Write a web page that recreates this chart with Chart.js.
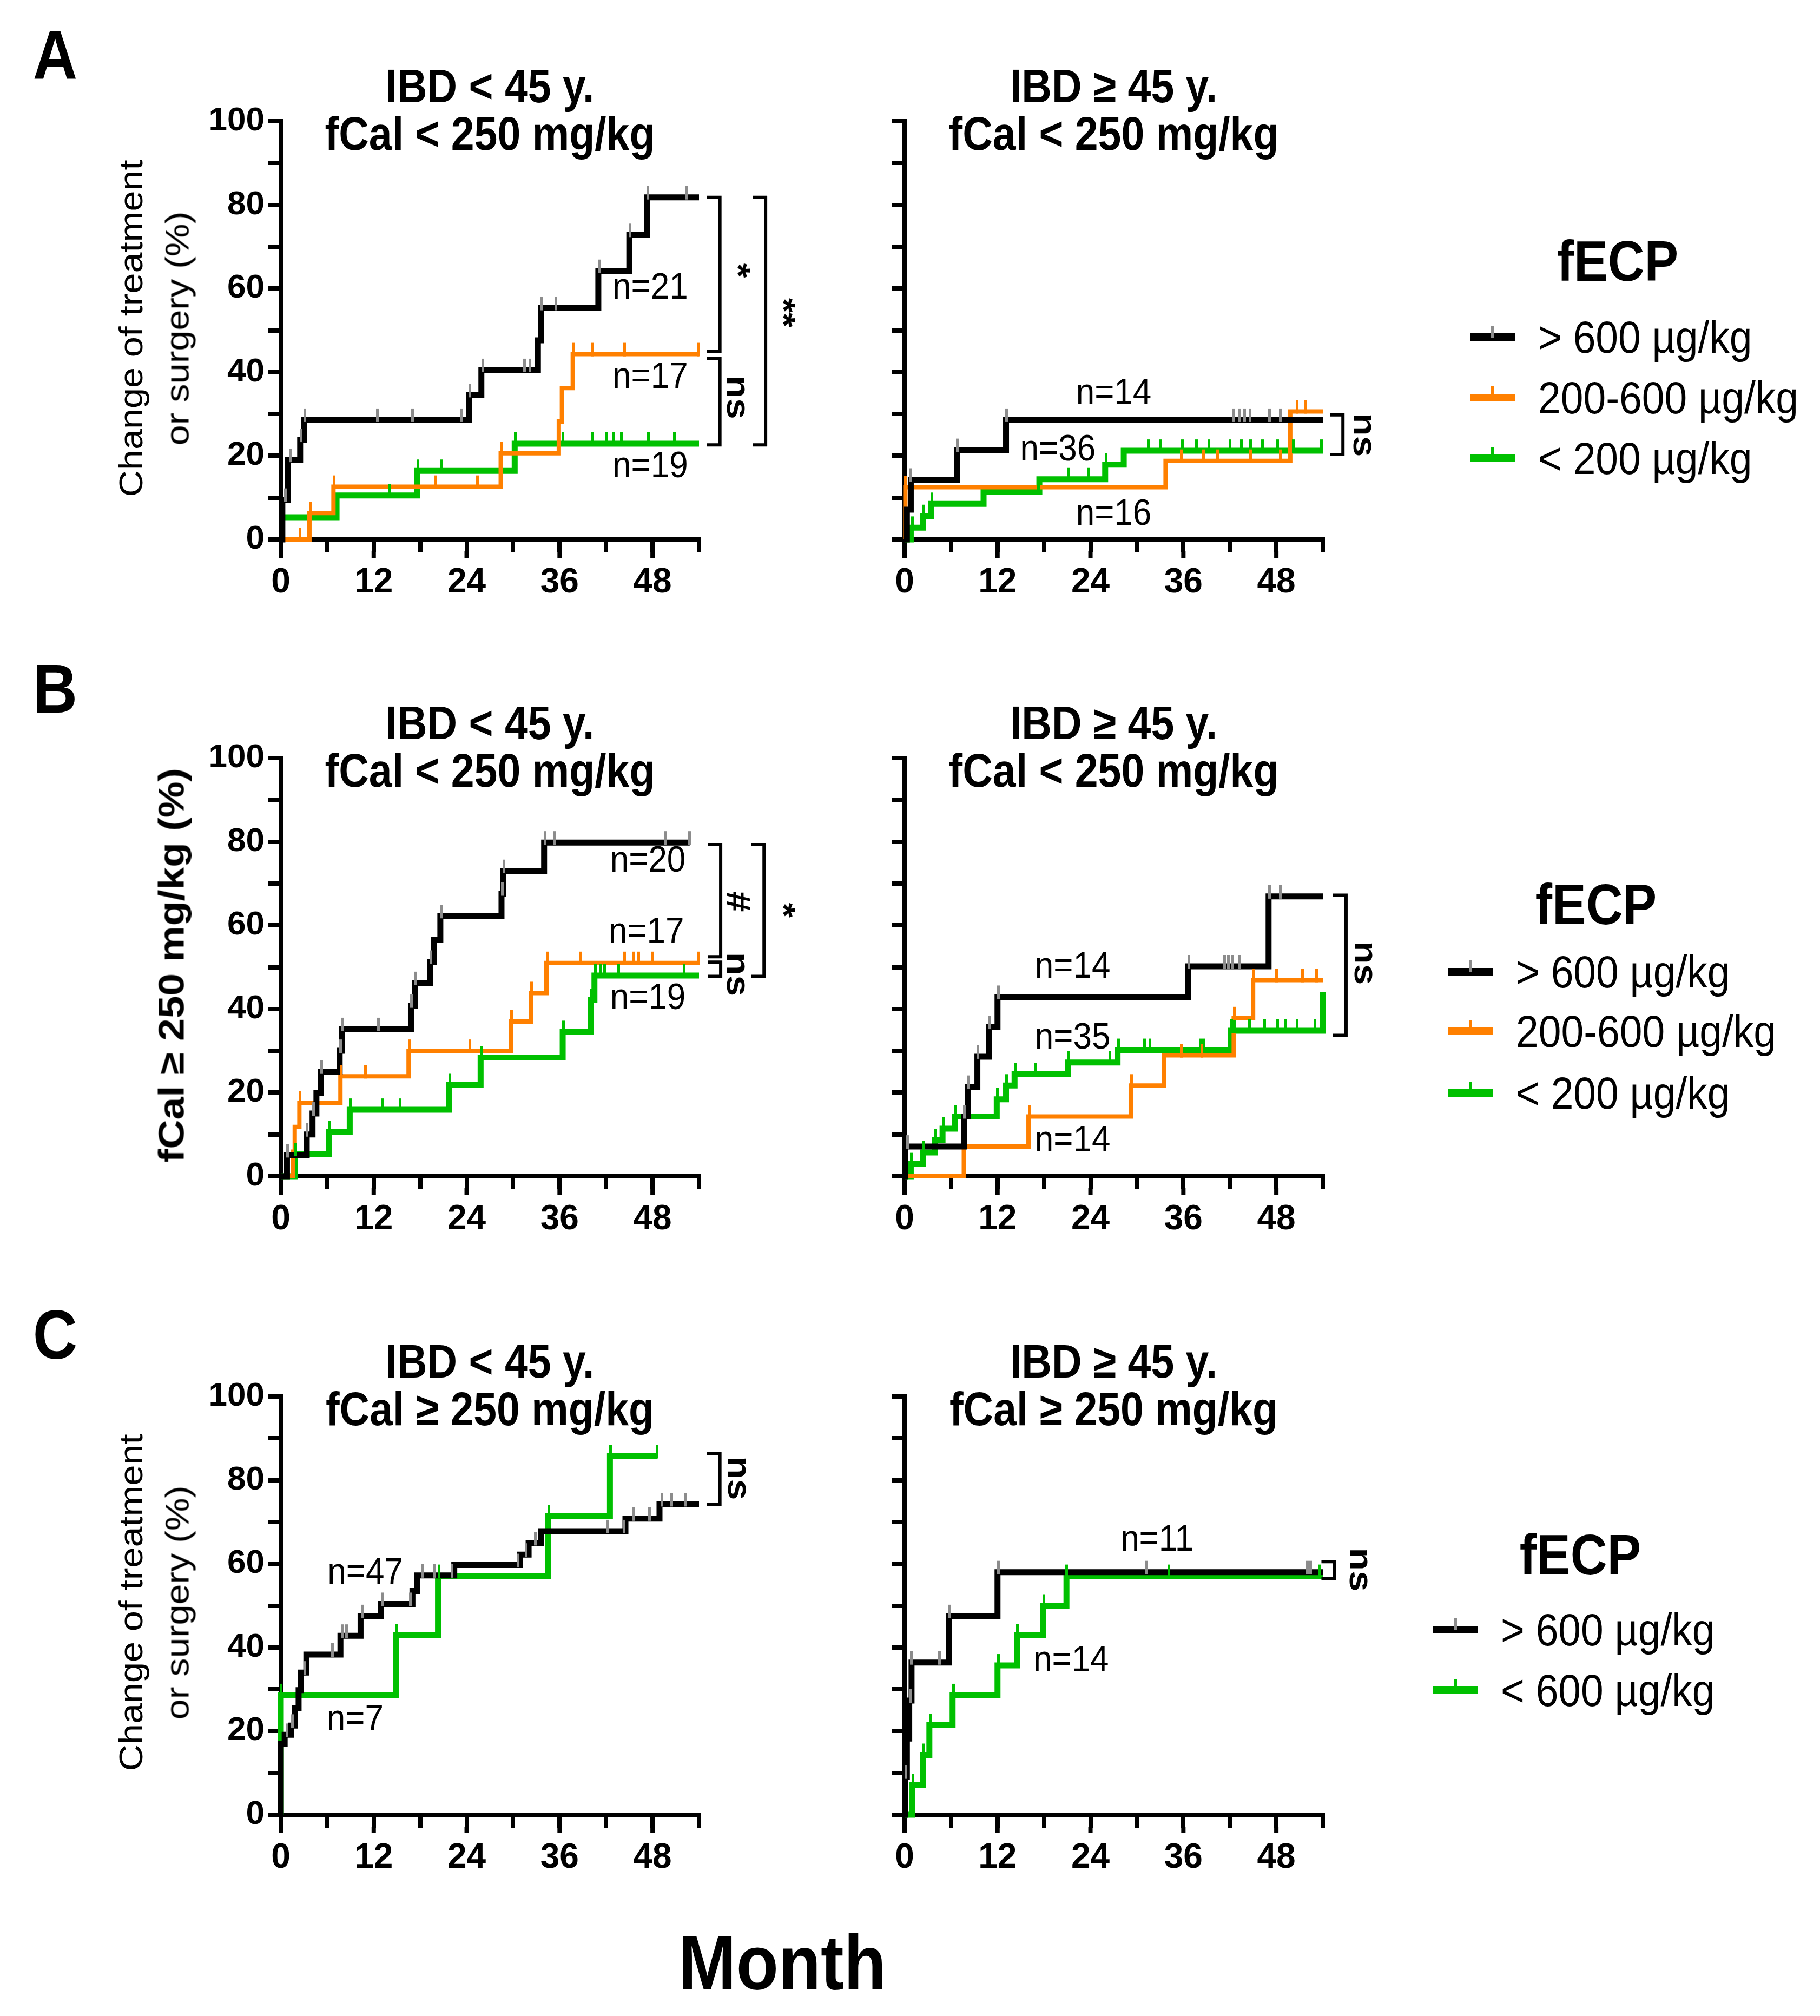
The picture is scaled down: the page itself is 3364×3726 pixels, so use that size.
<!DOCTYPE html>
<html>
<head>
<meta charset="utf-8">
<title>fECP cumulative incidence</title>
<script src="https://cdn.jsdelivr.net/npm/chart.js@4.4.1/dist/chart.umd.min.js"></script>
<style>
  html, body { margin: 0; padding: 0; background: #fff; }
  body { width: 3364px; height: 3726px; position: relative; overflow: hidden;
         font-family: "Liberation Sans", Arial, sans-serif; color: #000; }
  .txt { position: absolute; white-space: nowrap; line-height: 1; }
  canvas { position: absolute; }
</style>
</head>
<body>
<script>
// ---------- data (months, cumulative %, censoring months) ----------

// A  IBD < 45 y., fCal < 250
const aLeftHighT = [0, 0.2, 0.9, 2.5, 3.0, 24.3, 25.9, 33.2, 33.6, 41.0, 45.0, 47.3, 54];
const aLeftHighY = [0, 9.5, 19.0, 23.8, 28.6, 34.5, 40.5, 47.6, 55.3, 64.2, 72.8, 81.8, 81.8];
const aLeftHighCens = [0.6, 1.2, 2.6, 3.1, 12.5, 17.0, 23.3, 24.4, 26.1, 31.5, 32.2, 33.7, 35.5, 41.1, 45.1, 47.4, 52.4];
const aLeftMidT = [0, 3.7, 6.8, 28.4, 35.9, 36.3, 37.7, 54];
const aLeftMidY = [0, 6.3, 12.6, 20.6, 28.2, 36.2, 44.3, 44.3];
const aLeftMidCens = [2.5, 3.8, 6.9, 20.0, 25.4, 28.5, 37.8, 40.2, 44.4, 53.9];
const aLeftLowT = [0, 7.2, 17.6, 30.2, 54];
const aLeftLowY = [5.3, 10.5, 16.4, 22.9, 22.9];
const aLeftLowCens = [14.1, 17.7, 20.8, 30.3, 36.4, 40.3, 42.0, 43.0, 44.0, 47.5, 50.8];

// A  IBD >= 45 y., fCal < 250
const aRightHighT = [0, 0.3, 0.8, 6.75, 13.1, 54];
const aRightHighY = [0, 7.1, 14.3, 21.4, 28.6, 28.6];
const aRightHighCens = [0.8, 6.8, 13.2, 42.5, 43.2, 43.9, 44.6, 47.1, 48.5];
const aRightMidT = [0, 0.1, 33.7, 49.8, 54];
const aRightMidY = [0, 12.5, 18.8, 30.6, 30.6];
const aRightMidCens = [0.1, 35.7, 38.6, 40.4, 44.7, 48.5, 50.7, 51.8];
const aRightLowT = [0, 0.8, 2.4, 3.4, 10.2, 17.4, 25.9, 28.3, 54];
const aRightLowY = [0, 2.8, 5.6, 8.5, 11.4, 14.4, 17.9, 21.2, 21.2];
const aRightLowCens = [1.0, 2.5, 3.5, 17.3, 21.2, 23.8, 26.0, 31.5, 33.0, 35.9, 37.7, 39.3, 42.0, 43.5, 44.7, 46.2, 48.2, 50.2, 53.8];

// B  IBD < 45 y., fCal < 250
const bLeftHighT = [0, 0.8, 3.35, 4.1, 4.6, 5.2, 7.6, 7.9, 16.8, 17.3, 19.3, 19.8, 20.6, 28.5, 28.7, 34.0, 52.8];
const bLeftHighY = [0, 5.0, 10.0, 15.0, 20.0, 25.0, 30.0, 35.2, 40.8, 46.2, 51.3, 56.6, 62.2, 67.6, 73.0, 79.8, 79.8];
const bLeftHighCens = [0.9, 3.4, 4.2, 5.3, 7.7, 8.0, 12.6, 16.9, 17.4, 19.4, 20.7, 28.6, 28.8, 34.1, 35.4, 49.6, 52.8];
const bLeftMidT = [0, 1.6, 1.8, 2.4, 7.7, 16.5, 29.7, 32.3, 34.3, 54];
const bLeftMidY = [0, 5.9, 11.8, 17.6, 23.9, 30.0, 37.0, 43.8, 51.0, 51.0];
const bLeftMidCens = [2.5, 7.8, 10.9, 16.6, 24.4, 29.8, 32.4, 34.4, 38.7, 44.4, 45.5, 46.2, 48.0, 53.9];
const bLeftLowT = [0, 1.8, 6.2, 8.9, 21.7, 25.8, 36.4, 40.0, 40.5, 54];
const bLeftLowY = [0, 5.3, 10.6, 15.9, 21.8, 28.4, 34.5, 42.1, 48.0, 48.0];
const bLeftLowCens = [1.9, 6.3, 9.0, 13.2, 15.4, 21.8, 25.9, 36.5, 40.1, 40.6, 41.3, 41.8, 43.6, 52.1];

// B  IBD >= 45 y., fCal < 250
const bRightHighT = [0, 0.1, 7.65, 8.2, 9.4, 10.9, 12.0, 36.6, 47.0, 54];
const bRightHighY = [0, 7.1, 14.3, 21.4, 28.6, 35.7, 42.9, 50.2, 66.9, 66.9];
const bRightHighCens = [0.4, 7.7, 8.3, 9.5, 11.0, 12.1, 36.7, 41.3, 41.8, 42.3, 43.2, 47.1, 48.5];
const bRightMidT = [0, 7.65, 16.0, 29.2, 33.5, 42.5, 45.0, 54];
const bRightMidY = [0, 7.1, 14.3, 21.7, 28.9, 37.8, 46.9, 46.9];
const bRightMidCens = [16.1, 29.3, 35.7, 38.4, 42.6, 45.1, 48.0, 51.4, 53.2];
const bRightLowT = [0, 0.8, 2.4, 3.9, 4.9, 6.5, 11.9, 13.1, 14.2, 21.1, 27.5, 42.1, 54];
const bRightLowY = [0, 2.9, 5.7, 8.6, 11.4, 14.3, 18.4, 21.7, 24.4, 27.2, 30.2, 34.8, 44.0];
const bRightLowCens = [0.9, 2.5, 4.0, 5.0, 6.6, 12.0, 13.2, 14.3, 16.9, 21.2, 26.5, 27.6, 31.0, 31.7, 38.2, 38.6, 42.2, 42.6, 44.5, 46.5, 48.2, 49.2, 50.7, 53.0];

// C  IBD < 45 y., fCal >= 250
const cLeftHighT = [0, 0, 0.5, 1.3, 1.8, 2.3, 2.6, 3.3, 7.7, 10.3, 12.9, 17.0, 17.6, 22.4, 30.9, 32.0, 33.6, 44.5, 48.9, 54];
const cLeftHighY = [0, 17.0, 19.1, 21.3, 25.5, 29.8, 34.0, 38.3, 42.8, 47.5, 50.4, 53.5, 57.2, 59.7, 62.2, 64.9, 67.8, 70.8, 74.2, 74.2];
const cLeftHighCens = [0.8, 1.5, 3.1, 6.7, 8.0, 8.5, 10.6, 13.1, 16.7, 18.3, 19.8, 22.1, 30.6, 31.7, 32.9, 42.2, 44.3, 45.6, 47.6, 49.2, 50.5, 52.3];
const cLeftLowT = [0, 0, 14.9, 20.3, 34.5, 42.5, 48.6];
const cLeftLowY = [0, 28.6, 42.9, 57.1, 71.4, 85.7, 85.7];
const cLeftLowCens = [0, 15.0, 20.4, 34.6, 42.6, 48.6];

// C  IBD >= 45 y., fCal >= 250
const cRightHighT = [0, 0.1, 0.3, 0.6, 0.9, 5.7, 12.0, 54];
const cRightHighY = [0, 9.1, 18.2, 27.3, 36.4, 47.5, 58.0, 58.0];
const cRightHighCens = [0.2, 0.7, 0.9, 4.5, 5.8, 12.1, 31.2, 52.0, 52.4];
const cRightLowT = [0, 1.0, 2.4, 3.2, 6.2, 12.0, 14.5, 17.9, 20.9, 54];
const cRightLowY = [0, 7.1, 14.3, 21.4, 28.6, 35.7, 42.9, 50.0, 57.1, 57.1];
const cRightLowCens = [1.1, 2.5, 3.3, 6.3, 12.1, 14.6, 18.0, 20.9, 34.1, 53.6];

// group sizes, brackets [month, top %, bottom %] and test labels
const aLeftCounts = [['n=21', 47.7, 60.0], ['n=17', 47.7, 38.7], ['n=19', 47.7, 17.3]];
const aLeftBrackets = [[56.7, 81.8, 45.0], [56.7, 43.3, 22.6], [62.6, 81.8, 22.6]];
const aLeftMarks = [['*', 58.8, 64.3], ['ns', 58.8, 34.0], ['**', 64.7, 54.2]];
const aRightCounts = [['n=14', 27.0, 34.8], ['n=36', 19.8, 21.3], ['n=16', 27.0, 6.0]];
const aRightBrackets = [[56.6, 29.8, 20.3]];
const aRightMarks = [['ns', 59.2, 25.0]];
const bLeftCounts = [['n=20', 47.4, 75.3], ['n=17', 47.2, 58.2], ['n=19', 47.4, 42.5]];
const bLeftBrackets = [[56.8, 79.3, 52.5], [56.8, 51.2, 47.8], [62.4, 79.3, 47.8]];
const bLeftMarks = [['#', 58.8, 65.7], ['ns', 58.8, 48.3], ['*', 64.7, 63.6]];
const bRightCounts = [['n=14', 21.7, 50.0], ['n=35', 21.7, 33.0], ['n=14', 21.7, 8.4]];
const bRightBrackets = [[57.0, 67.2, 33.7]];
const bRightMarks = [['ns', 59.3, 51.0]];
const cLeftCounts = [['n=47', 10.9, 57.7], ['n=7', 9.6, 22.7]];
const cLeftBrackets = [[56.7, 86.4, 74.2]];
const cLeftMarks = [['ns', 59.0, 80.5]];
const cRightCounts = [['n=11', 32.6, 65.6], ['n=14', 21.5, 36.8]];
const cRightBrackets = [[55.5, 60.5, 56.5]];
const cRightMarks = [['ns', 58.7, 58.6]];

const xTicks = { min: 0, max: 54, step: 6, labelEvery: 12 };
const yTicks = { min: 0, max: 100, step: 10, labelEvery: 20 };

const legendThree = ['> 600 µg/kg', '200-600 µg/kg', '< 200 µg/kg'];
const legendTwo = ['> 600 µg/kg', '< 600 µg/kg'];

// ---------- styles & layout ----------
const BLACK = '#000000', ORANGE = '#ff8000', GREEN = '#00c000', GREY = '#8c8c8c';
const FONT = '"Liberation Sans", Arial, sans-serif';
const STRETCH = 1.12;      // the figure's lettering is slightly tall
const PLOT = 773;          // plot area side
const YW = 200, XH = 150, TP = 60, RP = 420;

Chart.defaults.font.family = FONT;
Chart.defaults.color = '#000';

function stepAt(ts, ys, t) {
    let v = ys[0];
    for (let i = 0; i < ts.length; i++) if (ts[i] <= t) v = ys[i];
    return v;
}

function censorMark(color) {
    const c = document.createElement('canvas');
    c.width = 5;
    c.height = 46;
    const g = c.getContext('2d');
    g.fillStyle = color;
    g.fillRect(0, 2, 5, 25);
    return c;
}

function text(str, cx, cy, css, extra) {
    const d = document.createElement('div');
    d.className = 'txt';
    d.textContent = str;
    d.style.cssText = `left:${cx}px;top:${cy}px;${css};transform:translate(-50%,-50%) ${extra || `scaleY(${STRETCH})`};`;
    document.body.appendChild(d);
    return d;
}

function leftText(str, x, cy, css) {
    const d = document.createElement('div');
    d.className = 'txt';
    d.textContent = str;
    d.style.cssText = `left:${x}px;top:${cy}px;${css};transform-origin:left center;transform:translateY(-50%) scaleY(${STRETCH});`;
    document.body.appendChild(d);
}

// annotations drawn through the chart's own scales
const kmNotes = {
    id: 'kmNotes',
    afterDatasetsDraw(chart, args, opts) {
        const { ctx, scales: { x, y } } = chart;
        ctx.save();
        ctx.fillStyle = '#000';
        ctx.strokeStyle = '#000';
        ctx.textAlign = 'center';
        ctx.textBaseline = 'middle';

        ctx.font = `62px ${FONT}`;
        (opts.counts || []).forEach(([label, mx, my]) => {
            ctx.save();
            ctx.translate(x.getPixelForValue(mx), y.getPixelForValue(my));
            ctx.scale(1, STRETCH);
            ctx.fillText(label, 0, 0);
            ctx.restore();
        });

        ctx.lineWidth = 6;
        (opts.brackets || []).forEach(([bx, top, bottom]) => {
            const px = x.getPixelForValue(bx);
            const pt = y.getPixelForValue(top);
            const pb = y.getPixelForValue(bottom);
            ctx.beginPath();
            ctx.moveTo(px - 24, pt);
            ctx.lineTo(px, pt);
            ctx.lineTo(px, pb);
            ctx.lineTo(px - 24, pb);
            ctx.stroke();
        });

        ctx.font = `bold 62px ${FONT}`;
        (opts.marks || []).forEach(([label, mx, my]) => {
            ctx.save();
            ctx.translate(x.getPixelForValue(mx), y.getPixelForValue(my));
            ctx.rotate(Math.PI / 2);
            ctx.scale(STRETCH, 1);
            ctx.fillText(label, 0, 0);
            ctx.restore();
        });

        // major month ticks are a little longer than the 6-month ones
        ctx.lineWidth = 8;
        const base = x.top + 24;
        for (let m = xTicks.min; m <= xTicks.max; m += xTicks.labelEvery) {
            const px = x.getPixelForValue(m);
            ctx.beginPath();
            ctx.moveTo(px, base - 2);
            ctx.lineTo(px, base + 10);
            ctx.stroke();
        }
        ctx.restore();
    }
};

function axisStyle() {
    return {
        grid: { drawOnChartArea: false, drawTicks: true, tickLength: 24, tickWidth: 8, tickColor: '#000', lineWidth: 8, color: '#000' },
        border: { display: true, color: '#000', width: 8 }
    };
}

function makePanel(p) {
    const cv = document.createElement('canvas');
    cv.width = YW + PLOT + RP;
    cv.height = TP + PLOT + XH;
    cv.style.left = (p.left - YW) + 'px';
    cv.style.top = (p.top - TP) + 'px';
    document.body.appendChild(cv);

    const datasets = [];
    p.series.forEach(s => {
        datasets.push({
            data: s.c.map(t => ({ x: t, y: stepAt(s.t, s.y, t) })),
            showLine: false,
            pointStyle: censorMark(s.tick),
            pointRadius: 5,
            clip: false
        });
    });
    p.series.forEach(s => {
        datasets.push({
            data: s.t.map((t, i) => ({ x: t, y: s.y[i] })),
            borderColor: s.color,
            borderWidth: s.width,
            stepped: 'before',
            pointRadius: 0,
            fill: false,
            clip: false
        });
    });

    const x = axisStyle(), y = axisStyle();
    Object.assign(x, {
        type: 'linear', min: xTicks.min, max: xTicks.max,
        afterFit: sc => { sc.height = XH; },
        ticks: {
            stepSize: xTicks.step, autoSkip: false, maxRotation: 0, padding: 18,
            font: { size: 64, weight: 'bold' },
            callback: v => (v % xTicks.labelEvery === 0 ? String(v) : '')
        }
    });
    Object.assign(y, {
        type: 'linear', min: yTicks.min, max: yTicks.max,
        afterFit: sc => { sc.width = YW; },
        ticks: {
            stepSize: yTicks.step, autoSkip: false, padding: 6,
            font: { size: 62, weight: 'bold' },
            callback: v => (p.yLabels && v % yTicks.labelEvery === 0 ? String(v) : '')
        }
    });

    new Chart(cv, {
        type: 'line',
        data: { datasets },
        options: {
            responsive: false,
            animation: false,
            devicePixelRatio: 1,
            layout: { padding: { left: 0, top: TP, right: RP, bottom: 0 } },
            plugins: {
                legend: { display: false },
                tooltip: { enabled: false },
                kmNotes: { counts: p.counts, brackets: p.brackets, marks: p.marks }
            },
            scales: { x, y }
        },
        plugins: [kmNotes]
    });

    const cx = p.left + PLOT / 2;
    text(p.title[0], cx, p.top - 65, `font-weight:bold;font-size:77px`);
    text(p.title[1], cx, p.top + 23, `font-weight:bold;font-size:77px`);
}

const COL_L = 519, COL_R = 1672, ROW_A = 224, ROW_B = 1401, ROW_C = 2581;
const black = (t, y, c) => ({ t, y, c, color: BLACK, tick: GREY, width: 11 });
const orange = (t, y, c) => ({ t, y, c, color: ORANGE, tick: ORANGE, width: 8 });
const green = (t, y, c) => ({ t, y, c, color: GREEN, tick: GREEN, width: 11 });

const panels = [
    { left: COL_L, top: ROW_A, yLabels: true, title: ['IBD < 45 y.', 'fCal < 250 mg/kg'],
      series: [black(aLeftHighT, aLeftHighY, aLeftHighCens), orange(aLeftMidT, aLeftMidY, aLeftMidCens), green(aLeftLowT, aLeftLowY, aLeftLowCens)],
      counts: aLeftCounts, brackets: aLeftBrackets, marks: aLeftMarks },
    { left: COL_R, top: ROW_A, yLabels: false, title: ['IBD ≥ 45 y.', 'fCal < 250 mg/kg'],
      series: [black(aRightHighT, aRightHighY, aRightHighCens), orange(aRightMidT, aRightMidY, aRightMidCens), green(aRightLowT, aRightLowY, aRightLowCens)],
      counts: aRightCounts, brackets: aRightBrackets, marks: aRightMarks },
    { left: COL_L, top: ROW_B, yLabels: true, title: ['IBD < 45 y.', 'fCal < 250 mg/kg'],
      series: [black(bLeftHighT, bLeftHighY, bLeftHighCens), orange(bLeftMidT, bLeftMidY, bLeftMidCens), green(bLeftLowT, bLeftLowY, bLeftLowCens)],
      counts: bLeftCounts, brackets: bLeftBrackets, marks: bLeftMarks },
    { left: COL_R, top: ROW_B, yLabels: false, title: ['IBD ≥ 45 y.', 'fCal < 250 mg/kg'],
      series: [black(bRightHighT, bRightHighY, bRightHighCens), orange(bRightMidT, bRightMidY, bRightMidCens), green(bRightLowT, bRightLowY, bRightLowCens)],
      counts: bRightCounts, brackets: bRightBrackets, marks: bRightMarks },
    { left: COL_L, top: ROW_C, yLabels: true, title: ['IBD < 45 y.', 'fCal ≥ 250 mg/kg'],
      series: [black(cLeftHighT, cLeftHighY, cLeftHighCens), green(cLeftLowT, cLeftLowY, cLeftLowCens)],
      counts: cLeftCounts, brackets: cLeftBrackets, marks: cLeftMarks },
    { left: COL_R, top: ROW_C, yLabels: false, title: ['IBD ≥ 45 y.', 'fCal ≥ 250 mg/kg'],
      series: [black(cRightHighT, cRightHighY, cRightHighCens), green(cRightLowT, cRightLowY, cRightLowCens)],
      counts: cRightCounts, brackets: cRightBrackets, marks: cRightMarks }
];

panels.forEach(makePanel);

// ---------- panel letters, axis titles ----------
const letterCss = 'font-weight:bold;font-size:114px';
text('A', 102, 102, letterCss);
text('B', 102, 1273, letterCss);
text('C', 102, 2467, letterCss);

const yTitleCss = 'font-size:61px';
const rot = `rotate(-90deg) scaleX(${STRETCH})`;
text('Change of treatment', 242, 607, yTitleCss, rot);
text('or surgery (%)', 328, 607, yTitleCss, rot);
text('fCal ≥ 250 mg/kg (%)', 316, 1784, 'font-weight:bold;font-size:67px', rot);
text('Change of treatment', 242, 2962, yTitleCss, rot);
text('or surgery (%)', 328, 2962, yTitleCss, rot);

text('Month', 1446, 3628, 'font-weight:bold;font-size:128px');

// ---------- legends ----------
function legend(cx, titleY, lineX, textX, rowYs, labels, colors) {
    text('fECP', cx, titleY, 'font-weight:bold;font-size:94px');
    labels.forEach((lab, i) => {
        const yy = rowYs[i];
        const bar = document.createElement('div');
        bar.style.cssText = `position:absolute;left:${lineX}px;top:${yy - 7}px;width:83px;height:14px;background:${colors[i]};`;
        document.body.appendChild(bar);
        const tk = document.createElement('div');
        tk.style.cssText = `position:absolute;left:${lineX + 39}px;top:${yy - 21}px;width:6px;height:${colors[i] === BLACK ? 22 : 16}px;background:${colors[i] === BLACK ? GREY : colors[i]};`;
        document.body.appendChild(tk);
        leftText(lab, textX, yy, 'font-size:75px');
    });
}
legend(2990, 483, 2717, 2843, [623, 735, 847], legendThree, [BLACK, ORANGE, GREEN]);
legend(2950, 1672, 2676, 2802, [1796, 1906, 2020], legendThree, [BLACK, ORANGE, GREEN]);
legend(2921, 2874, 2648, 2774, [3012, 3124], legendTwo, [BLACK, GREEN]);
</script>
</body>
</html>
